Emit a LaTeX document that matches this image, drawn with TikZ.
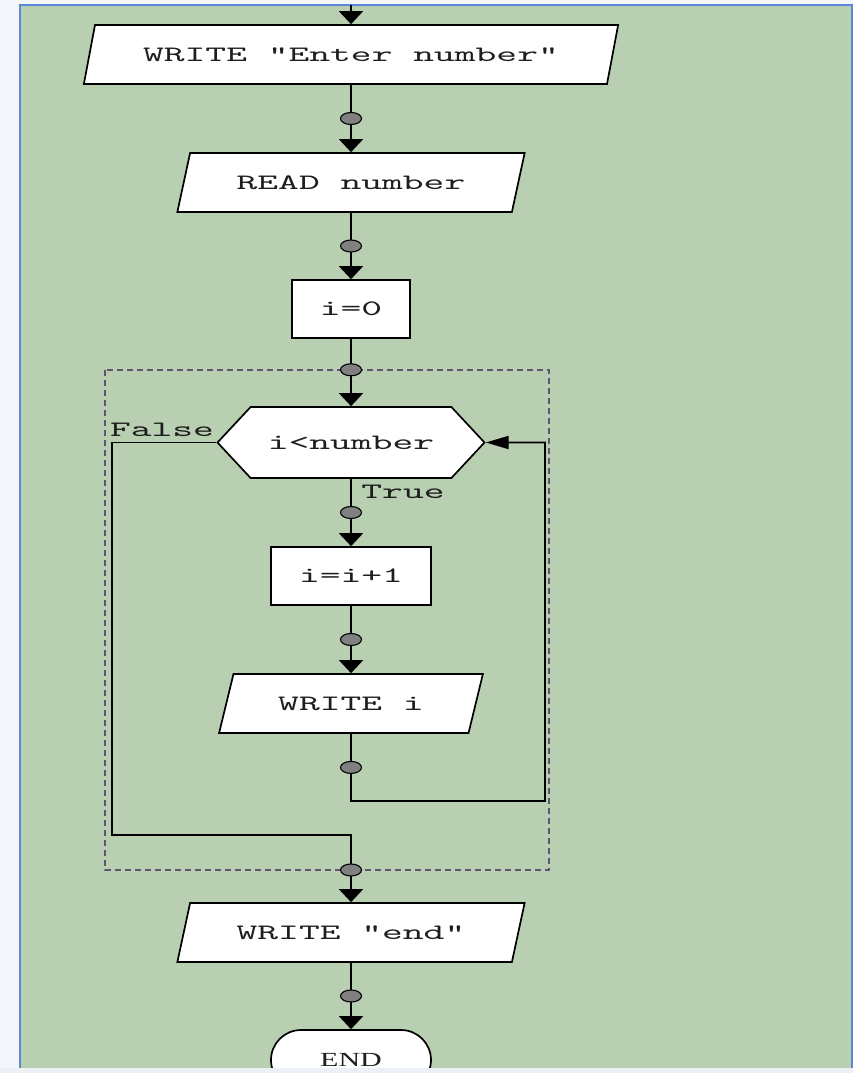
\documentclass[tikz,border=0pt]{standalone}
\usepackage{fontspec}
\usepackage{xcolor}
\usepackage{tikz}
\usetikzlibrary{shapes.geometric,shapes.misc,shapes.symbols,arrows.meta}
\newfontfamily\flowfont{lmmono10-regular.otf}[FakeStretch=1.8]
\newfontfamily\endfont[FakeStretch=1.5]{Liberation Serif}
\definecolor{panelcolor}{HTML}{B8CFB1}
\definecolor{framecolor}{HTML}{5B87D6}
\definecolor{pagecolor}{HTML}{F3F6FA}
\definecolor{loopcolor}{HTML}{5F5570}
\definecolor{dotcolor}{HTML}{808080}
\definecolor{inkcolor}{HTML}{1E1E1E}
\tikzset{
  box/.style={draw, fill=white, line width=1.7pt, text=inkcolor, inner sep=0pt, font=\flowfont\fontsize{22pt}{24pt}\selectfont},
  io/.style={box, trapezium, trapezium left angle=57, trapezium right angle=123, trapezium stretches=true, minimum height=59pt},
  proc/.style={box, rectangle, minimum height=58pt},
  cond/.style={box, signal, signal to=east and west, signal pointer angle=94, minimum width=267pt, minimum height=71pt},
  term/.style={box, rounded rectangle, minimum width=160pt, minimum height=60pt, font=\endfont\fontsize{20pt}{22pt}\selectfont},
  lbl/.style={inner sep=0pt, text=inkcolor, font=\flowfont\fontsize{22pt}{24pt}\selectfont},
  dot/.style={ellipse, draw, fill=dotcolor, line width=1.1pt, minimum width=21pt, minimum height=12pt, inner sep=0pt},
  line/.style={line width=1.9pt},
  flow/.style={line, -{Triangle[width=24pt,length=13pt]}},
  sideflow/.style={line, -{Triangle[width=13pt,length=23pt]}}
}
\begin{document}
\begin{tikzpicture}[x=1pt,y=-1pt]
\useasboundingbox (0,0) rectangle (853,1073);
% backdrop
\fill[pagecolor] (0,0) rectangle (853,1073);
\fill[panelcolor] (20,5) rectangle (852,1068);
\draw[framecolor, line width=1.5pt] (20,1068) -- (20,5) -- (852,5) -- (852,1068);
\draw[loopcolor, line width=1.3pt, dash pattern=on 6pt off 4pt] (105,370) rectangle (549,870);
% blocks
\node[io, minimum width=538pt] (wenter) at (351,54.5) {WRITE "Enter number"};
\node[io, minimum width=348pt] (rnum) at (351,182.5) {READ number};
\node[proc, minimum width=118pt] (init) at (351,309) {i=0};
\node[cond] (test) at (351,442.5) {i<number};
\node[proc, minimum width=160pt] (incr) at (351,576) {i=i+1};
\node[io, minimum width=264pt] (wri) at (351,703.5) {WRITE i};
\node[io, minimum width=348pt] (wend) at (351,932.5) {WRITE "end"};
\node[term] (stop) at (351,1060) {END};
\node[lbl] (flbl) at (162,430) {False};
\node[lbl] (tlbl) at (403,492) {True};
\coordinate (entry) at (351,5);
\coordinate (join) at (351,870);
\coordinate (fcorner) at (112,835);
\coordinate (lcorner) at (545,801);
% connectors
\draw[flow] (entry) -- (wenter);
\draw[flow] (wenter) -- node[dot] {} (rnum);
\draw[flow] (rnum) -- node[dot] {} (init);
\draw[flow] (init) -- node[dot, pos=0.46] {} (test);
\draw[flow] (test) -- node[dot] {} (incr);
\draw[flow] (incr) -- node[dot] {} (wri);
\draw[sideflow] (wri) -- node[dot] {} (wri |- lcorner) -- (lcorner) |- (test);
\draw[line] (test) -| (fcorner) -| (join);
\draw[flow] (join) -- (wend);
\node[dot] (joindot) at (join) {};
\draw[flow] (wend) -- node[dot] {} (stop);
\fill[pagecolor!95!gray] (0,1068) rectangle (853,1073);
\end{tikzpicture}
\end{document}
